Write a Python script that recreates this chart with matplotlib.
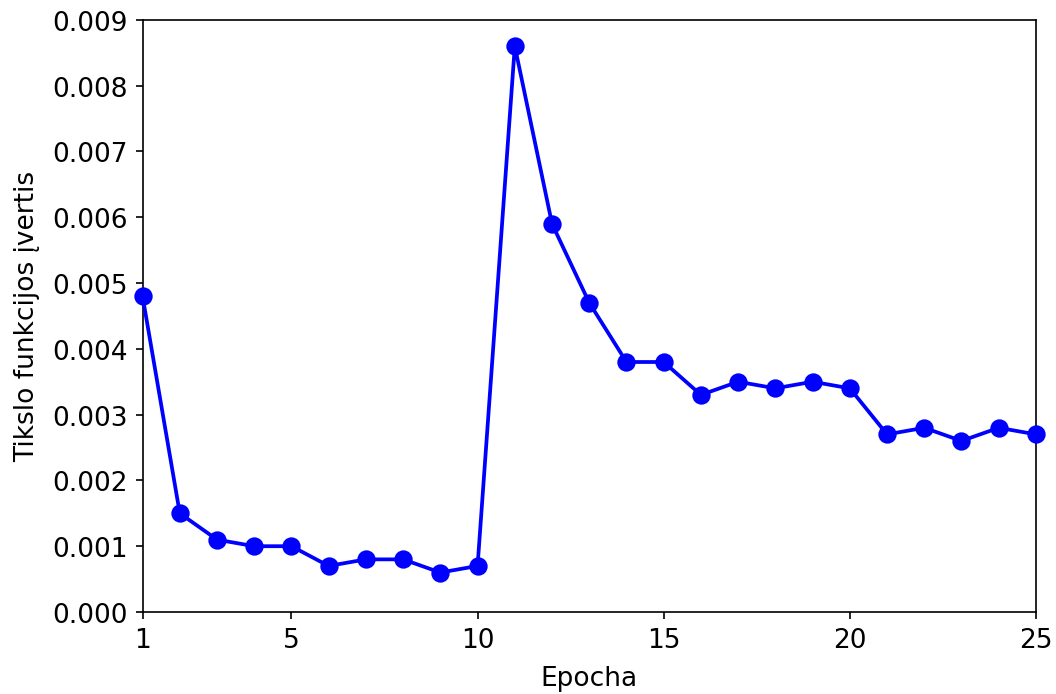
import numpy as np
import matplotlib.pyplot as plt

epochs = list(range(1, 26))
loss = [0.0048, 0.0015, 0.0011, 0.0010, 0.0010, 0.0007, 0.0008, 0.0008, 0.0006, 0.0007,
        0.0086, 0.0059, 0.0047, 0.0038, 0.0038, 0.0033, 0.0035, 0.0034, 0.0035, 0.0034,
        0.0027, 0.0028, 0.0026, 0.0028, 0.0027]
xticks = [1, 5, 10, 15, 20, 25]

plt.rcParams['font.size'] = 12.7

fig, ax = plt.subplots(figsize=(7.04, 4.633), dpi=150)
ax.plot(epochs, loss, 'o-', color='blue', lw=1.8, ms=7.8, clip_on=False, zorder=3)
ax.set_xlim(1, 25)
ax.set_ylim(0, 0.009)
ax.set_xticks(xticks)
yt = np.arange(0, 0.0091, 0.001)
ax.set_yticks(yt)
ax.set_yticklabels([f"{v:.3f}" for v in yt])
ax.set_xlabel("Epocha", labelpad=6)
ax.set_ylabel("Tikslo funkcijos įvertis", labelpad=6)
fig.subplots_adjust(left=0.135, right=0.981, top=0.97, bottom=0.118)
fig.savefig("out.png")
